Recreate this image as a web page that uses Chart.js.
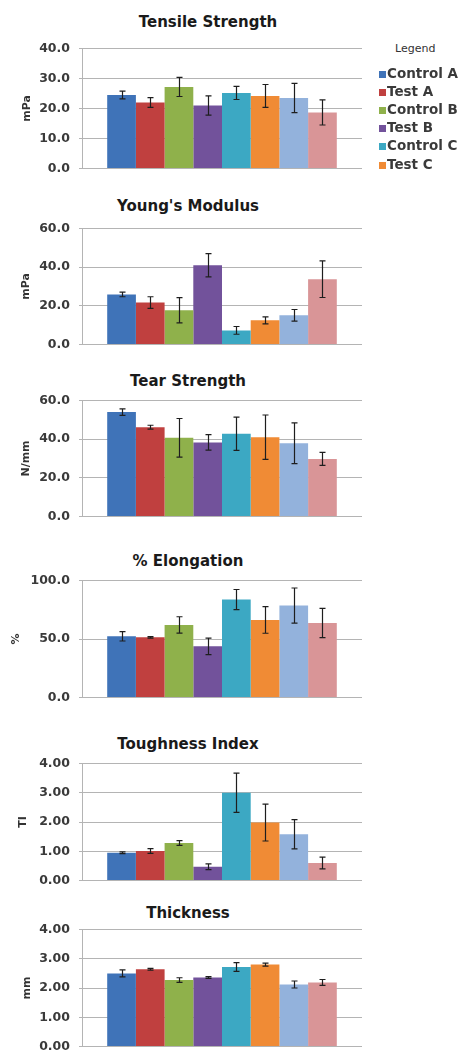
<!DOCTYPE html>
<html>
<head>
<meta charset="utf-8">
<script src="https://cdn.jsdelivr.net/npm/chart.js@4"></script>
<style>
  html, body { margin:0; padding:0; background:#fff; }
  body { width:467px; height:1051px; position:relative; overflow:hidden; font-family:"DejaVu Sans", sans-serif; }
  canvas { position:absolute; left:0; }
  .title { position:absolute; width:300px; text-align:center; font:bold 15px "DejaVu Sans"; line-height:15px; color:#1a1a1a; white-space:nowrap; }
  .lg-head { position:absolute; left:395px; top:43px; font:11px "DejaVu Sans"; line-height:11px; color:#333; }
  .lg-item { position:absolute; left:379px; font:bold 13.5px "DejaVu Sans"; line-height:14px; color:#3a3a3a; white-space:nowrap; }
  .lg-item span.sw { display:inline-block; width:7px; height:7px; margin-right:1px; vertical-align:0px; }
</style>
</head>
<body>
<script>
// ---- data ----
const seriesNames = ['Control A','Test A','Control B','Test B','Control C','Test C','Series 7','Series 8'];
const legendNames = ['Control A','Test A','Control B','Test B','Control C','Test C'];
const category = [''];

const tensile    = [24.5, 22.0, 27.2, 21.0, 25.2, 24.2, 23.5, 18.7];
const tensileErr = [1.3, 1.6, 3.2, 3.2, 2.2, 3.8, 4.9, 4.2];

const young      = [25.9, 21.7, 17.7, 41.0, 7.3, 12.5, 15.1, 33.8];
const youngErr   = [1.2, 3.0, 6.5, 6.0, 2.0, 1.8, 3.0, 9.5];

const tear       = [54.0, 46.2, 40.7, 38.3, 42.8, 41.0, 37.9, 29.8];
const tearErr    = [1.7, 1.0, 10.0, 4.0, 8.6, 11.5, 10.5, 3.4];

const elong      = [52.3, 51.4, 62.0, 43.7, 83.7, 66.3, 78.6, 63.7];
const elongErr   = [4.0, 0.6, 7.0, 7.0, 8.6, 11.4, 15.0, 12.5];

const tough      = [0.95, 1.01, 1.28, 0.47, 3.00, 1.98, 1.58, 0.60];
const toughErr   = [0.03, 0.08, 0.08, 0.10, 0.67, 0.63, 0.50, 0.20];

const thick      = [2.50, 2.64, 2.27, 2.36, 2.72, 2.80, 2.12, 2.19];
const thickErr   = [0.12, 0.03, 0.08, 0.03, 0.15, 0.05, 0.12, 0.10];

const colors = ['#3f73b8','#c0403f','#8fb14b','#72529b','#3ca8c3','#f08b35','#93b2dc','#d99597'];

// ---- layout ----
const panels = [
  {title:'Tensile Strength', unit:'mPa',  vals:tensile, errs:tensileErr, max:40,  step:10, dec:1, top:48,  bottom:168, tcx:208, tcy:22, ytPad:21},
  {title:"Young's Modulus",  unit:'mPa',  vals:young,   errs:youngErr,   max:60,  step:20, dec:1, top:228, bottom:344, tcx:188, tcy:206, ytPad:20},
  {title:'Tear Strength',    unit:'N/mm', vals:tear,    errs:tearErr,    max:60,  step:20, dec:1, top:400, bottom:516, tcx:188, tcy:381, ytPad:20},
  {title:'% Elongation',     unit:'%',    vals:elong,   errs:elongErr,   max:100, step:50, dec:1, top:580, bottom:697, tcx:188, tcy:561, ytPad:10},
  {title:'Toughness Index',  unit:'TI',   vals:tough,   errs:toughErr,   max:4,   step:1,  dec:2, top:763, bottom:880, tcx:188, tcy:744, ytPad:17},
  {title:'Thickness',        unit:'mm',   vals:thick,   errs:thickErr,   max:4,   step:1,  dec:2, top:929, bottom:1046, tcx:188, tcy:913, ytPad:21}
];

const errorBars = {
  id:'errorBars',
  afterDatasetsDraw(chart, args, opts) {
    const ctx = chart.ctx, y = chart.scales.y;
    ctx.save();
    ctx.strokeStyle = '#1e1e1e';
    ctx.lineWidth = 1.2;
    chart.data.datasets.forEach((ds, i) => {
      const el = chart.getDatasetMeta(i).data[0];
      const v = ds.data[0], e = opts.errs[i];
      const x = Math.round(el.x) + 0.5;
      const yt = y.getPixelForValue(v + e), yb = y.getPixelForValue(v - e);
      ctx.beginPath();
      ctx.moveTo(x, yt); ctx.lineTo(x, yb);
      ctx.moveTo(x - 3, yt); ctx.lineTo(x + 3, yt);
      ctx.moveTo(x - 3, yb); ctx.lineTo(x + 3, yb);
      ctx.stroke();
    });
    ctx.restore();
  }
};

function config(p) {
  return {
    type:'bar',
    data:{
      labels: category,
      datasets: seriesNames.map((n, i) => ({label:n, data:[p.vals[i]], backgroundColor:colors[i], borderWidth:0}))
    },
    options:{
      responsive:false, maintainAspectRatio:false, animation:false, devicePixelRatio:1,
      layout:{autoPadding:false, padding:{left:0, right:18, top:10, bottom:10}},
      datasets:{bar:{barPercentage:1, categoryPercentage:0.82}},
      plugins:{legend:{display:false}, tooltip:{enabled:false}, title:{display:false}, errorBars:{errs:p.errs}},
      scales:{
        x:{display:false},
        y:{
          min:0, max:p.max,
          ticks:{stepSize:p.step, callback:v => Number(v).toFixed(p.dec), color:'#3a3a3a', font:{family:'DejaVu Sans', size:12.5, weight:'bold'}, padding:9},
          grid:{color:'#b4b4b4', lineWidth:1, tickLength:3},
          border:{display:true, color:'#b4b4b4'},
          title:{display:true, text:p.unit, color:'#333', font:{family:'DejaVu Sans', size:11, weight:'bold'}, padding:{top:p.ytPad, bottom:0}},
          afterFit: s => { s.width = 82; }
        }
      }
    },
    plugins:[errorBars]
  };
}

function makeCanvas(H, top) {
  const c = document.createElement('canvas');
  c.width = 380; c.height = H;
  c.style.top = top + 'px';
  c.style.width = '380px'; c.style.height = H + 'px';
  document.body.appendChild(c);
  return c;
}

panels.forEach(p => {
  const t = document.createElement('div');
  t.className = 'title';
  t.textContent = p.title;
  t.style.left = (p.tcx - 150) + 'px';
  t.style.top = (p.tcy - 7) + 'px';
  document.body.appendChild(t);

  // first pass: measure where Chart.js puts the plot area
  const H0 = (p.bottom - p.top) + 20;
  const c0 = makeCanvas(H0, 0);
  const probe = new Chart(c0, config(p));
  const tOff = probe.chartArea.top;
  const bOff = H0 - probe.chartArea.bottom;
  probe.destroy();
  c0.remove();

  // second pass: size the canvas so the plot area lands where the reference has it
  const H = (p.bottom - p.top) + tOff + bOff;
  const c = makeCanvas(H, p.top - tOff);
  new Chart(c, config(p));
});

// ---- legend ----
const head = document.createElement('div');
head.className = 'lg-head';
head.textContent = 'Legend';
document.body.appendChild(head);
legendNames.forEach((n, i) => {
  const d = document.createElement('div');
  d.className = 'lg-item';
  d.style.top = (66 + i * 18.1) + 'px';
  const sw = document.createElement('span');
  sw.className = 'sw';
  sw.style.background = colors[i];
  d.appendChild(sw);
  d.appendChild(document.createTextNode(n));
  document.body.appendChild(d);
});
</script>
</body>
</html>
